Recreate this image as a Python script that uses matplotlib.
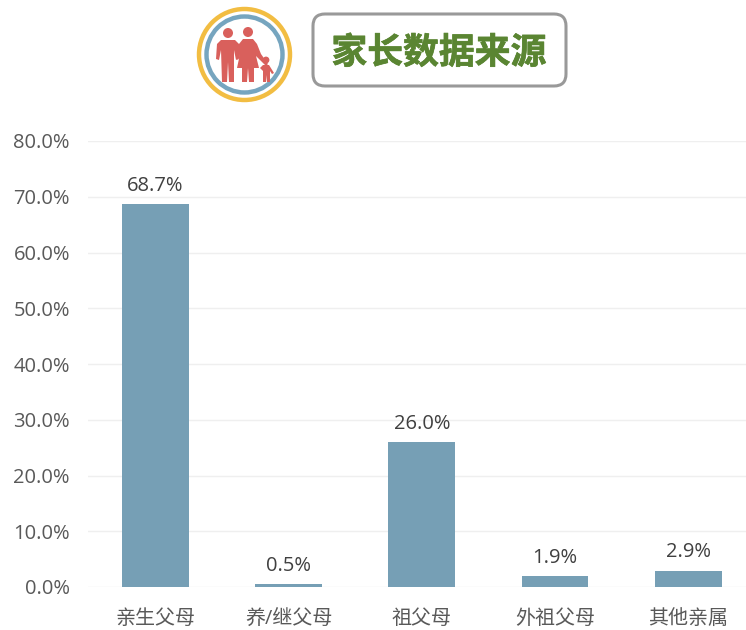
import matplotlib
matplotlib.use("Agg")
import matplotlib.pyplot as plt
from matplotlib.patches import Circle, FancyBboxPatch, Polygon
import matplotlib.patheffects as pe

plt.rcParams['font.family'] = ['Open Sans', 'Noto Sans CJK SC', 'DejaVu Sans']

categories = ["亲生父母", "养/继父母", "祖父母", "外祖父母", "其他亲属"]
values = [68.7, 0.5, 26.0, 1.9, 2.9]
yticks = [0, 10, 20, 30, 40, 50, 60, 70, 80]
title = "家长数据来源"

W, H = 746, 630
fig = plt.figure(figsize=(W / 100, H / 100), dpi=100)

# chart area, pixel numbers
ax = fig.add_axes([88 / W, 1 - 587 / H, (746 - 88) / W, (587 - 141) / H])
ax.bar(range(len(values)), values, width=0.5, color="#769fb5", zorder=3)
ax.set_xlim(-0.505, (746 - 88) / 133.25 - 0.505)  # last category runs off the right edge
ax.set_ylim(0, 80)
ax.set_yticks(yticks)
ax.set_yticklabels(["%.1f%%" % v for v in yticks], fontsize=14.5, color="#595959")
ax.set_xticks(range(len(categories)))
ax.set_xticklabels(categories, fontsize=14.4, color="#595959")
ax.tick_params(axis="both", length=0)
ax.tick_params(axis="y", pad=13)
ax.tick_params(axis="x", pad=16)
ax.grid(axis="y", color="#efefef", lw=1, zorder=0)
ax.set_axisbelow(True)
for s in ax.spines.values():
    s.set_visible(False)
for i, v in enumerate(values):
    ax.annotate("%.1f%%" % v, (i, v), xytext=(0, 6), textcoords="offset points",
                ha="center", va="bottom", fontsize=14.5, color="#404040")

# header, drawn in pixel coordinates
hd = fig.add_axes([0, 0, 1, 1], facecolor="none")
hd.set_xlim(0, W)
hd.set_ylim(H, 0)
hd.axis("off")
hd.add_patch(Circle((244.5, 54.5), 45.5, fc="white", ec="#f2bd42", lw=3.2))
hd.add_patch(Circle((244.5, 54.5), 38, fc="white", ec="#76a5bf", lw=3.2))
red = "#d9605c"
# father
hd.add_patch(Circle((228, 33), 5, fc=red, ec="none"))
hd.add_patch(Polygon([(221, 40), (235, 40), (239, 44), (240, 58), (236, 60), (234, 50), (234, 82),
                      (229, 82), (228, 62), (227, 82), (222, 82), (221, 50), (219, 60), (216, 59), (217, 44)],
                     fc=red, ec="none"))
# mother
hd.add_patch(Circle((248, 32), 5, fc=red, ec="none"))
hd.add_patch(Polygon([(243, 39), (253, 39), (257, 44), (261, 54), (268, 64), (266, 66), (256, 56), (259, 68),
                      (254, 68), (254, 82), (249, 82), (248, 68), (247, 82), (242, 82), (242, 68),
                      (237, 68), (240, 54), (238, 60), (236, 58), (239, 44)], fc=red, ec="none"))
# child
hd.add_patch(Circle((266, 60), 3.4, fc=red, ec="none"))
hd.add_patch(Polygon([(263, 65), (269, 65), (274, 73), (272, 74), (270, 71), (270, 82), (267, 82),
                      (266.5, 75), (266, 82), (263, 82), (263, 71), (260, 68)], fc=red, ec="none"))

hd.add_patch(FancyBboxPatch((313, 14), 253, 72, boxstyle="round,pad=0,rounding_size=12", fc="white",
                            ec="#999999", lw=2.2))
hd.text(439, 53, title, fontsize=25.8, fontweight="bold", color="#5a8532", ha="center", va="center",
        family=['Noto Sans CJK SC', 'DejaVu Sans'],
        path_effects=[pe.withStroke(linewidth=0.5, foreground="#5a8532")])

fig.savefig("out.png", dpi=100)
